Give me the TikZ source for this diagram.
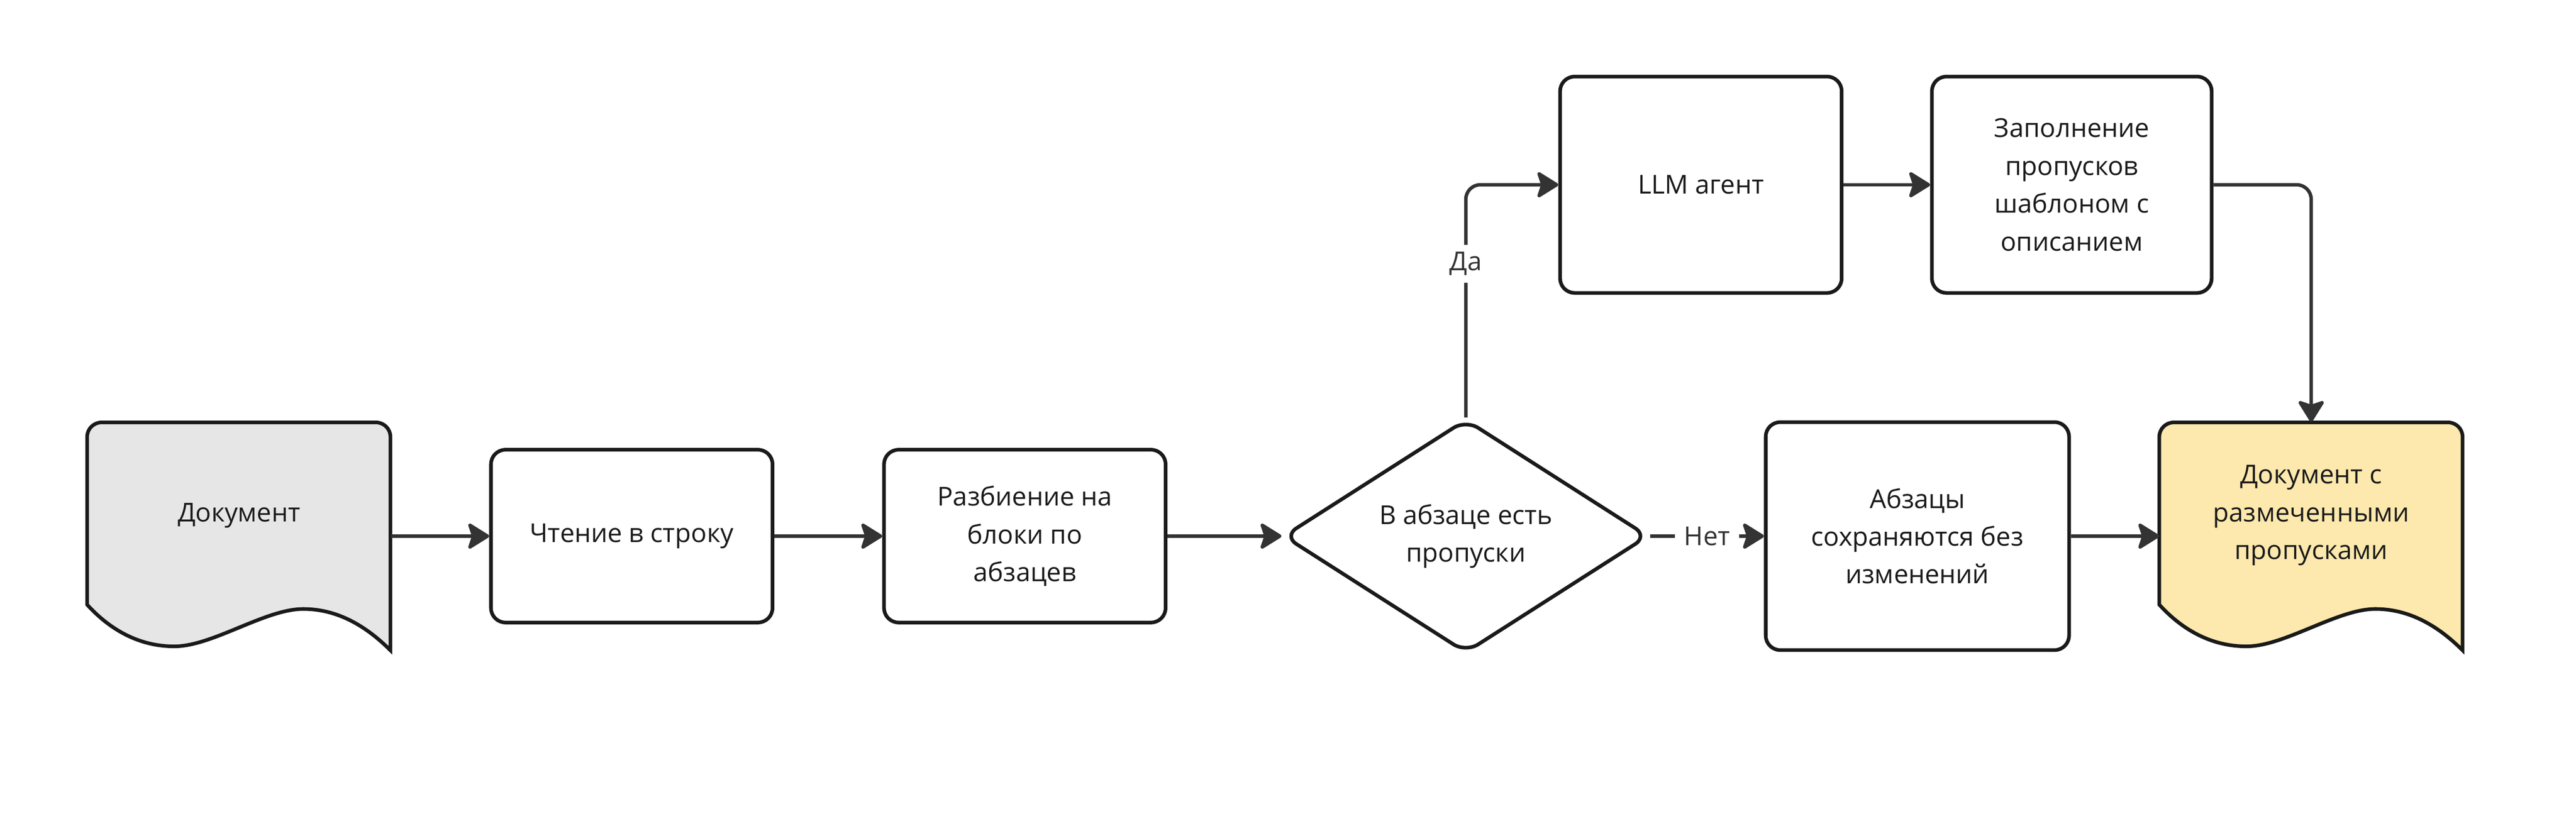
\documentclass[tikz,border=0pt]{standalone}
\usepackage{fontspec}
\setmainfont{Open Sans}
\usepackage{tikz}
\usetikzlibrary{shapes.geometric, arrows.meta, backgrounds}

\definecolor{linegray}{HTML}{333333}
\definecolor{bordergray}{HTML}{1A1A1A}
\definecolor{docgray}{HTML}{E6E6E6}
\definecolor{docyellow}{HTML}{FDE8AD}

\tikzset{
    box/.style={draw=bordergray, line width=1mm, rounded corners=4mm, align=center,
        minimum width=7.75cm, minimum height=4.76cm},
    decision/.style={diamond, aspect=1.57, draw=bordergray, line width=1mm, rounded corners=4mm,
        align=center, inner sep=0pt, minimum width=10.05cm, minimum height=6.44cm},
    docnode/.style={minimum width=8.35cm, minimum height=6.28cm, inner sep=0pt},
    docline/.style={draw=bordergray, line width=1mm},
    doctext/.style={align=center, yshift=5.7mm},
    arrow/.style={draw=linegray, line width=0.95mm, rounded corners=4mm,
        -{Stealth[length=6.5mm, width=8mm, inset=1.3mm, round]}},
    lbl/.style={fill=white, inner xsep=2.5mm, inner ysep=2mm, text=linegray}
}

\begin{document}
\begin{tikzpicture}[every node/.style={font=\fontsize{20.4}{29.6}\selectfont, text=bordergray}]
    \useasboundingbox (0,0) rectangle (70.91,-22.56);

    % Main row
    \node[docnode, label={[doctext, name=doctitle]center:Документ}] (doc) at (6.58,-14.77) {};
    \node[box] (read) at (17.39,-14.77) {Чтение в строку};
    \node[box] (split) at (28.21,-14.77) {Разбиение на\\блоки по\\абзацев};
    \node[decision] (gaps) at (40.35,-14.77) {В абзаце есть\\пропуски};
    \node[box, minimum width=8.35cm, minimum height=6.28cm] (keep) at (52.78,-14.77) {Абзацы\\сохраняются без\\изменений};
    \node[docnode, label={[doctext, name=resulttitle]center:Документ с\\размеченными\\пропусками}] (result) at (63.62,-14.77) {};

    % Upper row
    \node[box, minimum height=5.96cm] (llm) at (46.82,-5.09) {LLM агент};
    \node[box, minimum width=7.7cm, minimum height=5.96cm] (fillin) at (57.03,-5.09) {Заполнение\\пропусков\\шаблоном с\\описанием};

    % Document shapes
    \begin{scope}[on background layer]
    \fill[white] (0,0) rectangle (70.91,-22.56);
    \foreach \d/\c in {doc/docgray, result/docyellow} {
      \filldraw[docline, fill=\c, shift={(\d.south west)}] (0,1.26) -- (0,5.88)
        arc[start angle=180, end angle=90, radius=0.4] -- (7.95,6.28)
        arc[start angle=90, end angle=0, radius=0.4] -- (8.35,0)
        .. controls (7.8,0.55) and (7.0,1.14) .. (5.95,1.14)
        .. controls (4.9,1.14) and (3.45,0.11) .. (2.4,0.11)
        .. controls (1.4,0.11) and (0.6,0.6) .. cycle;
    }
    \end{scope}

    % Connectors
    \foreach \a/\b in {doc/read, read/split, split/gaps, keep/result, llm/fillin} {
      \draw[arrow] (\a) -- (\b);
    }
    \draw[arrow] (gaps) -- node[lbl] (no) {Нет} (keep);
    \draw[arrow] (gaps) |- node[lbl, pos=0.33] (yes) {Да} (llm);
    \draw[arrow] (fillin) -| (result);
\end{tikzpicture}
\end{document}
